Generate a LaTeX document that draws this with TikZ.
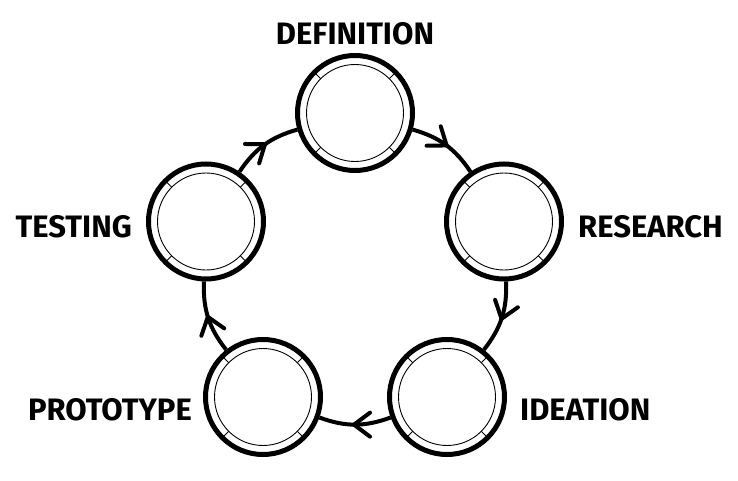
\documentclass[tikz,border=0pt]{standalone}
\usepackage{fontspec}
\setmainfont{Fira Sans}
\usetikzlibrary{positioning,decorations.markings}

\tikzset{
  stage/.style={circle, draw, line width=5pt, minimum size=115pt, inner sep=0pt,
    path picture={
      \draw[line width=0.9pt] (path picture bounding box.center) circle (48.5pt);
      \draw[line width=0.9pt] ([shift={(45:48.5pt)}]path picture bounding box.center) -- ([shift={(45:57pt)}]path picture bounding box.center);
      \draw[line width=0.9pt] ([shift={(135:48.5pt)}]path picture bounding box.center) -- ([shift={(135:57pt)}]path picture bounding box.center);
      \draw[line width=0.9pt] ([shift={(225:48.5pt)}]path picture bounding box.center) -- ([shift={(225:57pt)}]path picture bounding box.center);
      \draw[line width=0.9pt] ([shift={(315:48.5pt)}]path picture bounding box.center) -- ([shift={(315:57pt)}]path picture bounding box.center);
    }},
  stagelbl/.style={font=\bfseries\fontsize{31}{31}\selectfont, inner sep=0pt},
  link/.style={line width=4pt, postaction={decorate}, decoration={markings,
    mark=at position 0.5 with {\draw[line width=4pt, line cap=round, line join=miter]
      (-15pt,12pt) -- (1pt,0pt) -- (-15pt,-12pt);}}}
}

\begin{document}
\begin{tikzpicture}[x=1pt,y=1pt]
\useasboundingbox (0,0) rectangle (738,480);

% the five stages
\node[stage] (def) at (355,367) {};
\node[stage] (res) at (504,258.5) {};
\node[stage] (ide) at (447,83) {};
\node[stage] (pro) at (263,83) {};
\node[stage] (tes) at (206,258.5) {};

% labels
\node[stagelbl, above=8pt of def] (deflbl) {DEFINITION};
\node[stagelbl, right=14pt of res, yshift=-5pt] (reslbl) {RESEARCH};
\node[stagelbl, right=13pt of ide, yshift=-13pt] (idelbl) {IDEATION};
\node[stagelbl, left=11pt of pro, yshift=-13pt] (prolbl) {PROTOTYPE};
\node[stagelbl, left=14pt of tes, yshift=-5pt] (teslbl) {TESTING};

% cycle
\draw[link] (def) to[bend left=20] (res);
\draw[link] (res) to[bend left=20] (ide);
\draw[link] (ide) to[bend left=20] (pro);
\draw[link] (pro) to[bend left=20] (tes);
\draw[link] (tes) to[bend left=20] (def);
\end{tikzpicture}
\end{document}
